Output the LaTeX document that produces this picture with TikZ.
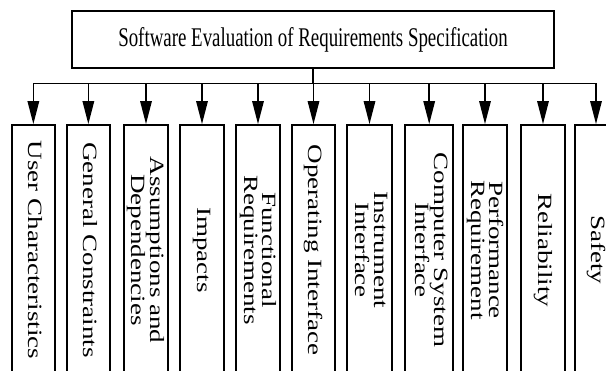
\documentclass[tikz,border=0pt]{standalone}
\usepackage{fontspec}
\setmainfont{Liberation Serif}
\usetikzlibrary{arrows.meta}

% vertical column caption: text set top-to-bottom, narrowed across the column
\newcommand{\collabel}[1]{\rotatebox{-90}{\scalebox{1}[0.75]{\begin{tabular}{@{}c@{}}#1\end{tabular}}}}

\begin{document}
\begin{tikzpicture}[x=1pt, y=-1pt,
    font=\fontsize{27}{22}\selectfont,
    topbox/.style={draw, line width=1.8pt, inner sep=0pt, minimum width=482, minimum height=57},
    colbox/.style={draw, line width=1.8pt, inner sep=0pt, minimum height=250},
    feed/.style={line width=1.5pt, -{Triangle[length=23pt 0 0, width=11.5pt 0 0]}}]
  \useasboundingbox (0,0) rectangle (606,371);
  \clip (0,0) rectangle (606,371);

  % root
  \node[topbox] (top) at (313,39.5)
    {\scalebox{0.7}[1]{Software Evaluation of Requirements Specification}};

  % columns
  \node[colbox, minimum width=43.3] (b1)  at (33.35,250) {\collabel{User Characteristics}};
  \node[colbox, minimum width=43.3] (b2)  at (88.35,250) {\collabel{General Constraints}};
  \node[colbox, minimum width=44]   (b3)  at (146,250)   {\collabel{Assumptions and\\Dependencies}};
  \node[colbox, minimum width=44]   (b4)  at (202,250)   {\collabel{Impacts}};
  \node[colbox, minimum width=44]   (b5)  at (258,250)   {\collabel{Functional\\Requirements}};
  \node[colbox, minimum width=43]   (b6)  at (313.5,250) {\collabel{Operating Interface}};
  \node[colbox, minimum width=45]   (b7)  at (369.5,250) {\collabel{Instrument\\Interface}};
  \node[colbox, minimum width=48.3] (b8)  at (429.2,250) {\collabel{Computer System\\Interface}};
  \node[colbox, minimum width=43.4] (b9)  at (485,250)   {\collabel{Performance\\Requirement}};
  \node[colbox, minimum width=44]   (b10) at (543,250)   {\collabel{Reliability}};
  \node[colbox, minimum width=42]   (b11) at (596,250)   {\collabel{Safety}};

  % connectors from the root down to every column
  \foreach \b in {b1,b2,b3,b4,b5,b6,b7,b8,b9,b10,b11}
    \draw[feed] (top.south) -- ++(0,14.5) -| (\b.north);
\end{tikzpicture}
\end{document}
